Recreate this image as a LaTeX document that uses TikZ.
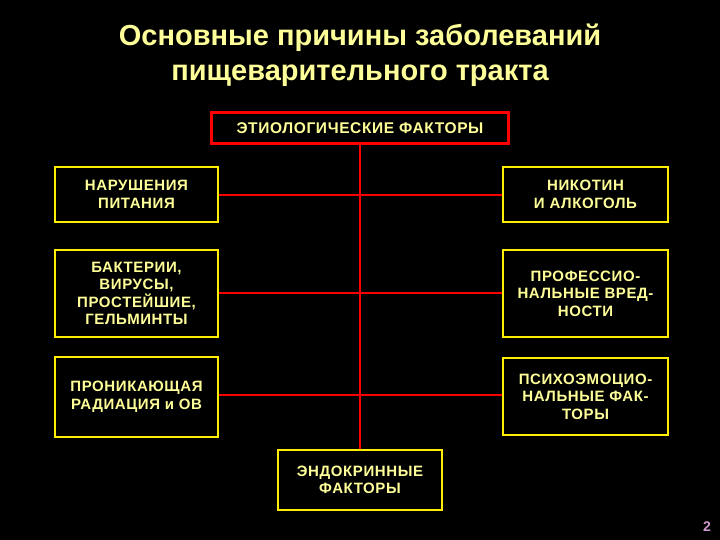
\documentclass[tikz,border=0pt]{standalone}
\usepackage{fontspec}
\setmainfont{Liberation Sans}
\newfontfamily\boxfont[LetterSpace=4]{Liberation Sans}
\definecolor{paley}{HTML}{FFFF99}
\definecolor{boxy}{HTML}{FFEE00}
\begin{document}
\begin{tikzpicture}[x=1pt,y=-1pt,
  ybox/.style={draw=boxy,line width=2.5pt,fill=black,text=paley,font=\boxfont\bfseries\fontsize{15}{17.5}\selectfont,align=center,inner sep=0pt},
  rline/.style={draw=red,line width=2pt}]
\fill[black] (0,0) rectangle (720,540);
\useasboundingbox (0,0) rectangle (720,540);
\node[text=paley,font=\bfseries\fontsize{29}{35}\selectfont,align=center] (title) at (360,55) {Основные причины заболеваний\\пищеварительного тракта};
\node[draw=red,line width=3pt,fill=black,text=paley,font=\boxfont\bfseries\fontsize{15.5}{17}\selectfont,minimum width=297pt,minimum height=31pt,inner sep=0pt] (top) at (360,128.5) {ЭТИОЛОГИЧЕСКИЕ ФАКТОРЫ};
\node[ybox,minimum width=163pt,minimum height=55pt] (l1) at (136.5,194.5) {НАРУШЕНИЯ\\ПИТАНИЯ};
\node[ybox,minimum width=163pt,minimum height=87pt] (l2) at (136.5,293.5) {БАКТЕРИИ,\\ВИРУСЫ,\\ПРОСТЕЙШИЕ,\\ГЕЛЬМИНТЫ};
\node[ybox,minimum width=163pt,minimum height=80pt] (l3) at (136.5,397) {ПРОНИКАЮЩАЯ\\РАДИАЦИЯ и ОВ};
\node[ybox,minimum width=165pt,minimum height=55pt] (r1) at (585.5,194.5) {НИКОТИН\\И АЛКОГОЛЬ};
\node[ybox,minimum width=165pt,minimum height=87pt] (r2) at (585.5,293.5) {ПРОФЕССИО-\\НАЛЬНЫЕ ВРЕД-\\НОСТИ};
\node[ybox,minimum width=165pt,minimum height=77pt] (r3) at (585.5,396.5) {ПСИХОЭМОЦИО-\\НАЛЬНЫЕ ФАК-\\ТОРЫ};
\node[ybox,minimum width=164pt,minimum height=60pt] (bot) at (360,480) {ЭНДОКРИННЫЕ\\ФАКТОРЫ};
\draw[rline] (top.south) -- (bot.north);
\draw[rline] (l1.east |- 0,195) -- (r1.west |- 0,195);
\draw[rline] (l2.east |- 0,293) -- (r2.west |- 0,293);
\draw[rline] (l3.east |- 0,395) -- (r3.west |- 0,395);
\node[text=violet!40!white,font=\bfseries\fontsize{14}{16}\selectfont] (pg) at (707,527) {2};
\end{tikzpicture}
\end{document}
